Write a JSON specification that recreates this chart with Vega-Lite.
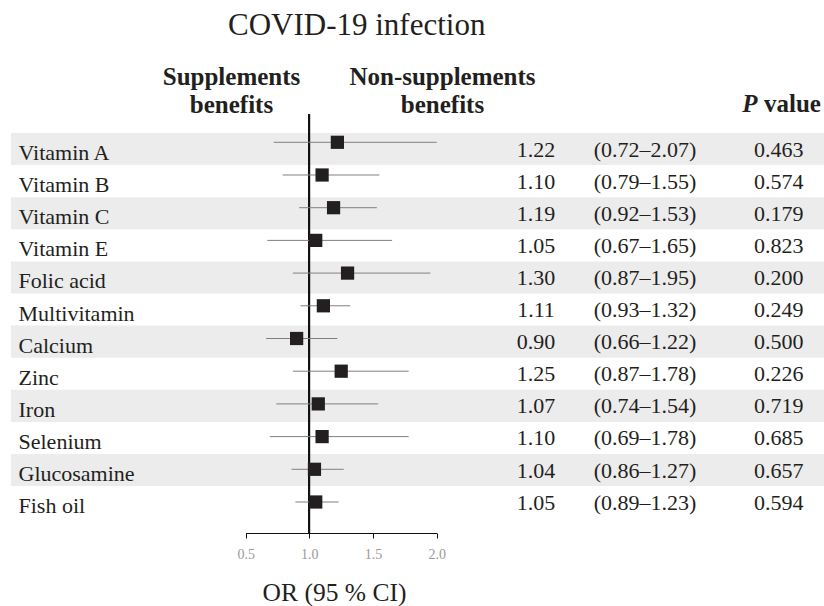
{
  "$schema": "https://vega.github.io/schema/vega-lite/v6.json",
  "width": 813,
  "height": 419,
  "autosize": {"type": "none"},
  "padding": {"left": 11, "top": 114, "right": 0, "bottom": 73},
  "background": "white",
  "config": {"view": {"stroke": null}, "font": "Liberation Serif", "axis": {"grid": false}},
  "title": {"text": "COVID-19 infection", "anchor": "start", "frame": "group", "dx": 217, "offset": -2, "font": "Liberation Serif", "fontSize": 31, "fontWeight": "normal", "color": "#231f20", "baseline": "alphabetic"},
  "data": {"values": [
    {"name": "Vitamin A", "or": 1.22, "lo": 0.72, "hi": 2.07, "ci": "(0.72–2.07)", "p": 0.463},
    {"name": "Vitamin B", "or": 1.10, "lo": 0.79, "hi": 1.55, "ci": "(0.79–1.55)", "p": 0.574},
    {"name": "Vitamin C", "or": 1.19, "lo": 0.92, "hi": 1.53, "ci": "(0.92–1.53)", "p": 0.179},
    {"name": "Vitamin E", "or": 1.05, "lo": 0.67, "hi": 1.65, "ci": "(0.67–1.65)", "p": 0.823},
    {"name": "Folic acid", "or": 1.30, "lo": 0.87, "hi": 1.95, "ci": "(0.87–1.95)", "p": 0.200},
    {"name": "Multivitamin", "or": 1.11, "lo": 0.93, "hi": 1.32, "ci": "(0.93–1.32)", "p": 0.249},
    {"name": "Calcium", "or": 0.90, "lo": 0.66, "hi": 1.22, "ci": "(0.66–1.22)", "p": 0.500},
    {"name": "Zinc", "or": 1.25, "lo": 0.87, "hi": 1.78, "ci": "(0.87–1.78)", "p": 0.226},
    {"name": "Iron", "or": 1.07, "lo": 0.74, "hi": 1.54, "ci": "(0.74–1.54)", "p": 0.719},
    {"name": "Selenium", "or": 1.10, "lo": 0.69, "hi": 1.78, "ci": "(0.69–1.78)", "p": 0.685},
    {"name": "Glucosamine", "or": 1.04, "lo": 0.86, "hi": 1.27, "ci": "(0.86–1.27)", "p": 0.657},
    {"name": "Fish oil", "or": 1.05, "lo": 0.89, "hi": 1.23, "ci": "(0.89–1.23)", "p": 0.594}
  ]},
  "resolve": {"scale": {"x": "independent", "y": "independent"}, "axis": {"x": "independent", "y": "independent"}},
  "layer": [
    {
      "layer": [
        {
          "transform": [{"filter": {"field": "name", "oneOf": ["Vitamin A", "Vitamin C", "Folic acid", "Calcium", "Iron", "Glucosamine"]}}],
          "mark": {"type": "rect", "color": "#ececec"},
          "encoding": {
            "y": {"field": "name", "type": "nominal",
              "scale": {"domain": ["Vitamin A", "Vitamin B", "Vitamin C", "Vitamin E", "Folic acid", "Multivitamin", "Calcium", "Zinc", "Iron", "Selenium", "Glucosamine", "Fish oil"], "paddingInner": 0, "paddingOuter": 0.5265, "align": 0.562, "round": false},
              "axis": {"orient": "left", "domain": false, "ticks": false, "tickSize": 0, "labelAlign": "left", "labelBaseline": "alphabetic", "labelOffset": 11, "labelPadding": -7, "labelFont": "Liberation Serif", "labelFontSize": 22, "labelColor": "#231f20", "labelLimit": 400, "labelOverlap": false, "labelBound": false,
                "title": ["Supplements", "benefits"], "titleAngle": 0, "titleX": 220, "titleY": -30, "titleAlign": "center", "titleBaseline": "alphabetic", "titleFont": "Liberation Serif", "titleFontSize": 25, "titleFontWeight": "bold", "titleColor": "#231f20", "titleLineHeight": 28}}
          }
        },
        {
          "mark": {"type": "text", "align": "center", "baseline": "alphabetic", "dy": 7.5, "font": "Liberation Serif", "fontSize": 22, "color": "#231f20"},
          "encoding": {
            "y": {"field": "name", "type": "nominal"},
            "x": {"datum": "OR", "type": "nominal",
              "scale": {"type": "point", "domain": ["OR", "CI", "P"], "range": [525, 743], "padding": 0},
              "axis": {"orient": "top", "domain": false, "ticks": false, "tickSize": 0, "labelAngle": 0, "labelExpr": "datum.value == 'P' ? 'value' : ''", "labelAlign": "left", "labelBaseline": "alphabetic", "labelPadding": 3, "labelOffset": 9.5, "labelFont": "Liberation Serif", "labelFontSize": 25, "labelFontWeight": "bold", "labelColor": "#231f20", "labelOverlap": false, "labelBound": false, "labelFlush": false,
                "title": "P", "titleAngle": 0, "titleFont": "Liberation Serif", "titleFontSize": 25, "titleFontWeight": "bold", "titleFontStyle": "italic", "titleColor": "#231f20", "titleX": 730.7, "titleY": -3, "titleAlign": "left", "titleBaseline": "alphabetic"}},
            "text": {"field": "or", "type": "quantitative", "format": ".2f"}
          }
        },
        {
          "mark": {"type": "text", "align": "center", "baseline": "alphabetic", "dy": 7.5, "font": "Liberation Serif", "fontSize": 22, "color": "#231f20"},
          "encoding": {
            "y": {"field": "name", "type": "nominal"},
            "x": {"datum": "CI", "type": "nominal"},
            "text": {"field": "ci", "type": "nominal"}
          }
        },
        {
          "mark": {"type": "text", "align": "left", "baseline": "alphabetic", "dy": 7.5, "font": "Liberation Serif", "fontSize": 22, "color": "#231f20"},
          "encoding": {
            "y": {"field": "name", "type": "nominal"},
            "x": {"datum": "P", "type": "nominal"},
            "text": {"field": "p", "type": "quantitative", "format": ".3f"}
          }
        }
      ]
    },
    {
      "layer": [
        {
          "mark": {"type": "rule", "color": "#111111", "strokeWidth": 1.3},
          "encoding": {
            "x": {"datum": 1, "type": "quantitative",
              "scale": {"domain": [0.5, 2], "range": [234.7, 425.7], "clamp": true, "nice": false, "zero": false},
              "axis": {"orient": "bottom", "values": [0.5, 1, 1.5, 2], "format": ".1f", "domainColor": "#111111", "tickColor": "#111111", "tickSize": 5, "labelColor": "#9a9a9a", "labelFont": "Liberation Serif", "labelFontSize": 14, "labelBaseline": "alphabetic", "labelPadding": 20, "labelFlush": false,
                "title": "OR (95 % CI)", "titleFont": "Liberation Serif", "titleFontSize": 25.5, "titleFontWeight": "normal", "titleColor": "#231f20", "titleX": 323, "titleY": 67, "titleAlign": "center", "titleBaseline": "alphabetic"}}
          }
        },
        {
          "mark": {"type": "rule", "color": "#808080", "strokeWidth": 1},
          "encoding": {
            "y": {"field": "name", "type": "nominal",
              "scale": {"domain": ["Vitamin A", "Vitamin B", "Vitamin C", "Vitamin E", "Folic acid", "Multivitamin", "Calcium", "Zinc", "Iron", "Selenium", "Glucosamine", "Fish oil"], "paddingInner": 0, "paddingOuter": 0.4067, "align": 0.449, "round": false},
              "axis": {"orient": "right", "labels": false, "ticks": false, "domain": false,
                "title": ["Non-supplements", "benefits"], "titleAngle": 0, "titleX": -382, "titleY": -30, "titleAlign": "center", "titleBaseline": "alphabetic", "titleFont": "Liberation Serif", "titleFontSize": 25, "titleFontWeight": "bold", "titleColor": "#231f20", "titleLineHeight": 28}},
            "x": {"field": "lo", "type": "quantitative", "title": "OR (95 % CI)"},
            "x2": {"field": "hi"}
          }
        },
        {
          "mark": {"type": "square", "size": 175, "opacity": 1, "color": "#231f20"},
          "encoding": {
            "y": {"field": "name", "type": "nominal", "title": ["Non-supplements", "benefits"]},
            "x": {"field": "or", "type": "quantitative", "title": "OR (95 % CI)"}
          }
        }
      ]
    }
  ]
}
